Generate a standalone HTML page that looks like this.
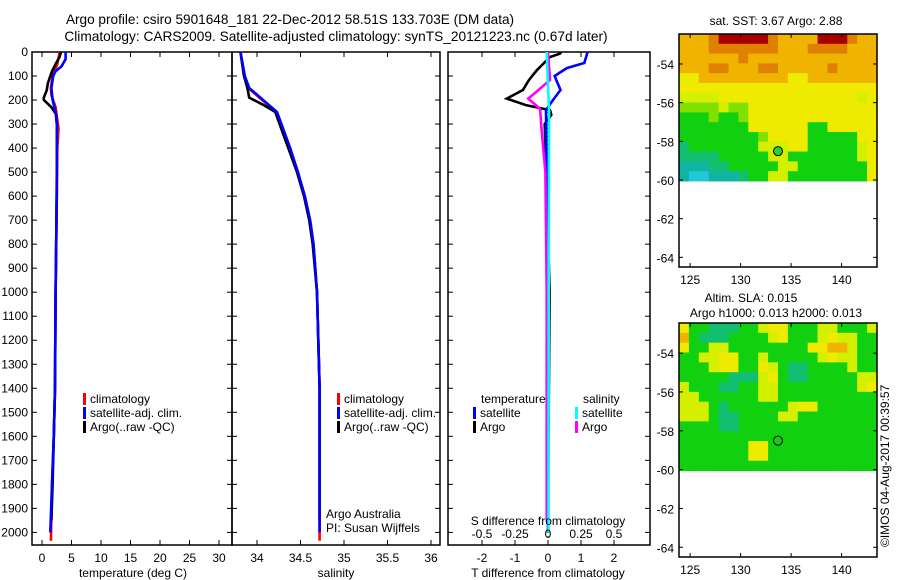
<!DOCTYPE html>
<html><head><meta charset="utf-8"><style>
body{margin:0;background:#fff;}
svg{display:block;font-family:"Liberation Sans",sans-serif;}
</style></head><body>
<svg id="c" width="900" height="580"></svg>
<script>
// ---- data ----
const depthTicks=[0,100,200,300,400,500,600,700,800,900,1000,1100,1200,1300,1400,1500,1600,1700,1800,1900,2000];
const tempTicks=[0,5,10,15,20,25,30];
const salTicks=[34,34.5,35,35.5,36];
const tdTicks=[-2,-1,0,1,2];
const sdTicks=[-0.5,-0.25,0,0.25,0.5];
const tempClimDepth=[0,50,100,150,180,230,320,400,600,1000,1400,1600,1800,2035];
const tempClimVal=[3.0,2.6,1.8,1.5,1.6,2.3,2.8,2.6,2.5,2.3,2.2,2.0,1.7,1.5];
const tempSatDepth=[0,30,60,80,100,150,200,250,300,600,1000,1400,1600,1800,2000];
const tempSatVal=[4.0,4.0,3.3,2.3,1.9,1.6,1.8,2.3,2.5,2.5,2.3,2.2,2.0,1.7,1.4];
const tempArgoDepth=[0,20,50,80,100,130,160,190,200,230,260,300,500,800,1000,1400,1600,1800,1950];
const tempArgoVal=[3.2,3.0,2.3,1.7,1.4,1.0,0.8,0.3,0.3,1.6,2.4,2.5,2.5,2.4,2.3,2.2,2.0,1.8,1.6];
const salClimDepth=[0,100,150,200,250,300,400,500,600,700,800,900,1000,1400,2035];
const salClimVal=[33.81,33.85,33.9,34.06,34.22,34.28,34.38,34.47,34.55,34.61,34.65,34.67,34.69,34.72,34.72];
const salSatDepth=[0,100,150,200,250,300,400,500,600,700,800,900,1000,1400,2000];
const salSatVal=[33.81,33.86,33.91,34.07,34.23,34.28,34.38,34.47,34.55,34.61,34.65,34.67,34.69,34.72,34.72];
const salArgoDepth=[0,100,150,190,220,250,300,400,500,600,700,800,1000,1400,1950];
const salArgoVal=[33.81,33.85,33.89,33.91,34.07,34.21,34.26,34.36,34.46,34.54,34.6,34.64,34.69,34.72,34.72];
const dtSatDepth=[0,46,67,100,158,200,242,400,1000,1500,2000];
const dtSatVal=[1.2,1.1,0.57,0.2,0.38,0.15,-0.06,-0.05,-0.03,0.0,0.0];
const dtArgoDepth=[0,7,21,76,117,158,194,222,242,262,300,500,1000,1500,1950];
const dtArgoVal=[0.4,0.36,0.06,-0.34,-0.58,-0.76,-1.25,-0.65,0.06,0.1,-0.1,-0.05,0.05,0.02,0.0];
const dsArgoDepth=[0,117,165,194,236,314,500,1000,1500,1950];
const dsArgoVal=[0.0,0.015,-0.086,-0.15,-0.06,-0.05,-0.02,-0.01,-0.01,-0.01];
const dsSatDepth=[0,250,1000,2000];
const dsSatVal=[-0.01,0.008,0.005,0.004];
const lonTicks=[125,130,135,140];
const latTicks=[-54,-56,-58,-60,-62,-64];
const argoLon=133.7, argoLat=-58.51;
const sstGrid=[
"77789999987777999877","77788888887778888777","77777787777777777777","77788777887777787777",
"66777777777667777777","66666666666666666666","55556666666666666656","44445446666666666666",
"33343346666666666666","33333336666663366666","33333333466663333366","23333333555663333356",
"22223333355333333356","11122333335533333336","10011123355333333336"];
const slaGrid=[
"63322233566333553335","73222333356333565533","63355333333336677533","33556633533333565533",
"33356633653223333533","33333222563223333355","53332233553333333356","55333333553333333333",
"55532333333566333333","55532233335533333333","33332233333333333333","33333333333333333333",
"33333336633333333333","33333336633333333333","33333333333333333333"];
const palette=["#20c8d8","#10b4a0","#10c070","#10d010","#80e000","#d4f000","#eeea00","#f0b400","#e08000","#a80000"];
// ---- helpers ----
const S=document.getElementById('c');const NS="http://www.w3.org/2000/svg";
function el(t,a,p){const e=document.createElementNS(NS,t);for(const k in a)e.setAttribute(k,a[k]);(p||S).appendChild(e);return e;}
function txt(x,y,s,a){const e=el('text',Object.assign({x:x,y:y,'font-size':12,fill:'#000'},a||{}));e.textContent=s;return e;}
const pTop=52,pBot=545;
const yD=d=>52+d*0.2402;
function panel(name,x0,x1){
 const g=el('g',{});
 
 
 el('rect',{x:x0,y:pTop,width:x1-x0,height:pBot-pTop,fill:'none',stroke:'#000','stroke-width':1.5},g);
 return g;}
function drawLine(g,dep,val,fx,col,w,name){
 let d='';dep.forEach((v,i)=>{d+=(i?'L':'M')+fx(val[i]).toFixed(1)+','+yD(v).toFixed(1);});
 const p=el('path',{d:d,fill:'none',stroke:col,'stroke-width':w||2.6},g);
 
 }
function xticks(g,ticks,fx,labY){
 ticks.forEach(t=>{const x=fx(t);el('line',{x1:x,y1:pTop,x2:x,y2:pTop+5,stroke:'#000'},g);el('line',{x1:x,y1:pBot,x2:x,y2:pBot-5,stroke:'#000'},g);
 if(labY)txt(x,labY,String(t),{'text-anchor':'middle'});});}
// titles
const t1=txt(290,24,"Argo profile: csiro 5901648_181 22-Dec-2012 58.51S 133.703E (DM data)",{'text-anchor':'middle','font-size':13.6});

const t2=txt(336,41,"Climatology: CARS2009. Satellite-adjusted climatology: synTS_20121223.nc (0.67d later)",{'text-anchor':'middle','font-size':13.7});

// panel 1 temperature
const xT=v=>42+v*5.9;
const g1=panel('temperature-panel',32,232);
xticks(g1,tempTicks,xT,562);
depthTicks.forEach(d=>{const y=yD(d);el('line',{x1:32,y1:y,x2:37,y2:y,stroke:'#000'},g1);el('line',{x1:232,y1:y,x2:227,y2:y,stroke:'#000'},g1);txt(28,y+4,String(d),{'text-anchor':'end'});});
txt(133,577,"temperature (deg C)",{'text-anchor':'middle'});
drawLine(g1,tempClimDepth,tempClimVal,xT,'#f00',2.6,'temp-climatology-line');
drawLine(g1,tempArgoDepth,tempArgoVal,xT,'#000',2.6,'temp-argo-line');
drawLine(g1,tempSatDepth,tempSatVal,xT,'#00f',2.6,'temp-satellite-line');
function legend(g,x,y,col,label,name){el('rect',{x:x,y:y-10,width:3,height:12,fill:col},g);const t=txt(x+7,y,label,{});}
legend(g1,83,403,'#f00','climatology','legend-climatology');
legend(g1,83,417,'#00f','satellite-adj. clim.','legend-satellite');
legend(g1,83,431,'#000','Argo(..raw -QC)','legend-argo');
// panel 2 salinity
const xS=v=>257+(v-34)*87;
const g2=panel('salinity-panel',232,440);
xticks(g2,salTicks,xS,562);
depthTicks.forEach(d=>{const y=yD(d);el('line',{x1:232,y1:y,x2:237,y2:y,stroke:'#000'},g2);el('line',{x1:440,y1:y,x2:435,y2:y,stroke:'#000'},g2);});
txt(336,577,"salinity",{'text-anchor':'middle'});
drawLine(g2,salClimDepth,salClimVal,xS,'#f00',2.6,'sal-climatology-line');
drawLine(g2,salArgoDepth,salArgoVal,xS,'#000',2.6,'sal-argo-line');
drawLine(g2,salSatDepth,salSatVal,xS,'#00f',2.6,'sal-satellite-line');
legend(g2,337,403,'#f00','climatology','legend-climatology-2');
legend(g2,337,417,'#00f','satellite-adj. clim.','legend-satellite-2');
legend(g2,337,431,'#000','Argo(..raw -QC)','legend-argo-2');
txt(326,518,"Argo Australia",{});txt(326,532,"PI: Susan Wijffels",{});
// panel 3 differences
const xDT=v=>548+v*33, xDS=v=>548+v*132;
const g3=panel('difference-panel',448,650);
xticks(g3,tdTicks,xDT,562);
sdTicks.forEach(t=>txt(xDS(t),538,String(t),{'text-anchor':'middle'}));
txt(548,525,"S difference from climatology",{'text-anchor':'middle'});
txt(548,577,"T difference from climatology",{'text-anchor':'middle'});
depthTicks.forEach(d=>{const y=yD(d);el('line',{x1:448,y1:y,x2:453,y2:y,stroke:'#000'},g3);el('line',{x1:650,y1:y,x2:645,y2:y,stroke:'#000'},g3);});
el('line',{x1:548,y1:pTop,x2:548,y2:pBot,stroke:'#000','stroke-dasharray':'1,3'},g3);
drawLine(g3,dtArgoDepth,dtArgoVal,xDT,'#000',2.6,'tdiff-argo-line');
drawLine(g3,dtSatDepth,dtSatVal,xDT,'#00f',2.6,'tdiff-satellite-line');
drawLine(g3,dsArgoDepth,dsArgoVal,xDS,'#f0f',2.6,'sdiff-argo-line');
drawLine(g3,dsSatDepth,dsSatVal,xDS,'#0ff',2.6,'sdiff-satellite-line');
txt(481,403,"temperature",{});txt(583,403,"salinity",{});
legend(g3,473,417,'#00f','satellite','legend-t-satellite');
legend(g3,473,431,'#000','Argo','legend-t-argo');
legend(g3,575,417,'#0ff','satellite','legend-s-satellite');
legend(g3,575,431,'#f0f','Argo','legend-s-argo');
// maps
function drawMap(name,y0,y1,grid,fill){
 const lx=l=>679+(l-123.9)*10.1, ly=l=>y0+(-52.45-l)*((y1-y0)/12.05);
 const g=el('g',{});
 const rows=grid.length,cols=grid[0].length;
 const latTop=-52.45,latBot=-60.05,lonL=123.9,lonR=143.5;
 for(let r=0;r<rows;r++)for(let c=0;c<cols;c++){
  const la0=latTop+(latBot-latTop)*r/rows,la1=latTop+(latBot-latTop)*(r+1)/rows;
  const lo0=lonL+(lonR-lonL)*c/cols,lo1=lonL+(lonR-lonL)*(c+1)/cols;
  const cell=el('rect',{x:lx(lo0),y:ly(la0),width:lx(lo1)-lx(lo0)+0.5,height:ly(la1)-ly(la0)+0.5,fill:palette[+grid[r][c]]},g);
  
  }
 el('rect',{x:679,y:y0,width:198,height:y1-y0,fill:'none',stroke:'#000','stroke-width':1.5},g);
 lonTicks.forEach(l=>{const x=lx(l);el('line',{x1:x,y1:y0,x2:x,y2:y0+4,stroke:'#000'},g);el('line',{x1:x,y1:y1,x2:x,y2:y1-4,stroke:'#000'},g);txt(x,y1+17,String(l),{'text-anchor':'middle'});});
 latTicks.forEach(l=>{const y=ly(l);el('line',{x1:679,y1:y,x2:683,y2:y,stroke:'#000'},g);el('line',{x1:877,y1:y,x2:873,y2:y,stroke:'#000'},g);txt(674,y+5,String(l),{'text-anchor':'end'});});
 const m=el('circle',{cx:lx(argoLon),cy:ly(argoLat),r:4.5,fill:fill,stroke:'#000','stroke-width':1},g);
 
}
drawMap('sst-map',34,267,sstGrid,'#30d030');
drawMap('sla-map',323,557,slaGrid,'none');
txt(776,25,"sat. SST: 3.67 Argo: 2.88",{'text-anchor':'middle'});
txt(751,302,"Altim. SLA: 0.015",{'text-anchor':'middle'});
txt(776,317,"Argo h1000: 0.013 h2000: 0.013",{'text-anchor':'middle'});
const cp=txt(0,0,"©IMOS 04-Aug-2017 00:39:57",{transform:'translate(889,547) rotate(-90)'});

</script>
</body></html>
